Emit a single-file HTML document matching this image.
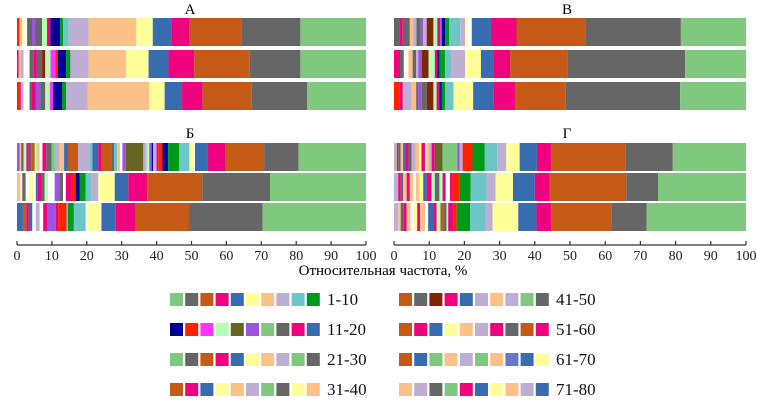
<!DOCTYPE html>
<html><head><meta charset="utf-8"><style>
body{margin:0;background:#fff}
svg{display:block;font-family:"Liberation Serif",serif}
</style></head><body>
<svg id="chart" width="757" height="402" viewBox="0 0 757 402" xmlns="http://www.w3.org/2000/svg">
<g id="bars"></g>
<g id="axes"></g>
<g id="legend"></g>
<text x="190" y="14" text-anchor="middle" font-size="15">А</text>
<text x="567" y="14" text-anchor="middle" font-size="15">В</text>
<text x="190" y="138" text-anchor="middle" font-size="15">Б</text>
<text x="567" y="138" text-anchor="middle" font-size="15">Г</text>
<text x="383" y="275" text-anchor="middle" font-size="15">Относительная частота, %</text>
</svg>
<script>
const palette = {g:"#7fc97f",k:"#666666",o:"#c55a17",m:"#f0027f",b:"#386cb0",y:"#ffff99",p:"#fdc086",l:"#beaed4",t:"#6cc6c8",G:"#009a1a",n:"#000099",r:"#ff2200",M:"#ff33ff",L:"#b3ffb3",O:"#666622",P:"#9955dd",d:"#7f2704",i:"#6677cc",w:"#ffffff"};

const aRow1Ends=[0.7,1.5,2.1,2.9,4.3,5.3,7.2,8.6,9.6,12.4,13.2,14.8,20.5,34.2,38.9,44.4,49.5,64.3,81.2,100];
const aRow1Colors="rpywkPkLmnGtlpybmokg";
const aRow2Ends=[0.5,1.1,1.9,3.6,4.8,5.7,7.2,8.1,9.6,11.0,11.7,14.1,15.3,20.5,31.3,37.7,43.4,50.8,66.7,81.2,100];
const aRow2Colors="mplwkmkdLMrnGlpybmokg";
const aRow3Ends=[0.6,1.1,1.9,3.6,4.3,5.3,6.7,8.1,9.4,10.3,12.9,14.1,20.2,37.9,42.3,47.3,53.2,67.3,83.1,100];
const aRow3Colors="rmlwkmPkLMnGlpybmokg";

const vRow1Ends=[1.7,2.5,4.5,5.5,6.4,7.6,8.3,9.3,11.2,12.3,13.1,13.6,14.5,15.7,18.8,20.2,20.8,22.1,27.7,34.8,54.3,81.5,100];
const vRow1Colors="kmkplkPldLmPnGtlywbmokg";
const vRow2Ends=[1.7,2.8,4.1,5.3,6.3,6.9,7.9,9.8,11.6,12.3,12.9,14.5,16.4,20.2,24.7,28.4,33.0,49.2,82.7,100];
const vRow2Colors="mkwpklPdLmnGtlybmokg";
const vRow3Ends=[1.5,2.5,5.0,6.3,6.9,7.9,9.3,11.2,12.1,12.9,13.6,14.5,16.9,22.5,28.2,34.4,48.8,81.3,100];
const vRow3Colors="rmlpkPkdLmnGtybmokg";

const bRow1Ends=[0.8,1.2,1.9,2.7,3.4,4.1,5.1,5.7,6.5,7.3,8.4,9.9,11.1,12.2,13.5,14.6,17.5,20.9,21.6,23.3,24.2,27.1,27.8,28.7,29.5,30.2,31.2,36.2,37.1,37.9,38.6,39.0,40.0,40.5,41.7,43.3,46.5,49.4,50.5,51.0,54.5,59.8,70.8,80.7,100];
const bRow1Colors="PpkLmkoLpwmkglpboltbmoktpwPOlLPnlmrnGtywbmokg";
const bRow2Ends=[1.0,1.5,2.5,3.4,4.6,5.4,6.0,7.0,7.9,8.9,10.8,12.2,13.2,14.0,15.6,16.8,18.0,19.7,21.3,23.3,28.0,31.9,37.3,53.1,72.5,100];
const bRow2Colors="pwkwywbmkLwPkwmrnGtlybmokg";
const bRow3Ends=[1.7,2.7,3.4,4.4,5.4,6.5,7.5,8.6,11.1,11.8,14.2,14.6,16.3,19.7,20.1,23.9,24.2,28.3,33.8,49.3,70.4,100];
const bRow3Colors="bombwlwmPmrtGtwywbmokg";

const gRow1Ends=[0.8,1.2,1.9,2.6,3.4,4.1,5.0,6.2,7.2,7.8,8.8,9.3,10.0,10.7,11.6,13.8,18.0,18.7,19.5,22.3,25.8,29.3,31.9,35.7,40.6,44.7,65.7,79.2,100];
const gRow1Colors="lrkpbmklpymLplmOgPlrGtlybmokg";
const gRow2Ends=[1.2,1.9,2.6,3.6,4.5,5.5,6.2,7.2,8.3,9.3,10.7,11.6,12.9,13.8,14.7,15.9,16.6,18.5,21.8,26.3,28.9,33.8,40.0,44.2,66.0,75.0,100];
const gRow2Colors="lmkpmpwpybmLkLmwmrGtlybmokg";
const gRow3Ends=[1.2,1.9,2.8,3.6,4.7,5.7,6.6,7.4,8.8,9.7,11.2,12.1,13.2,14.0,14.9,15.4,16.8,17.8,21.6,26.1,28.0,35.3,40.5,44.7,61.7,71.8,100];
const gRow3Colors="lpkmpwympwbmLokLmrGtlybmokg";

const tickValues=[0,10,20,30,40,50,60,70,80,90,100];
const legendLabels=["1-10","11-20","21-30","31-40","41-50","51-60","61-70","71-80"];
const legendColors=["gkombypltG","nrMLOPgkmb","gkombyplgk","ombyplgkyp","okdmblplgk","ombyplmkom","obgplgpiby","plkgmbyplb"];

const NS="http://www.w3.org/2000/svg";
function xLeft(v){return 17+v*3.49;}
function xRight(v){return 394+v*3.52;}
function mk(tag,attrs,parent){const e=document.createElementNS(NS,tag);for(const k in attrs)e.setAttribute(k,attrs[k]);parent.appendChild(e);return e;}

const barsG=document.getElementById('bars');
const panels=[
 {key:'a',sx:xLeft,ys:[18,50,82],rows:[[aRow1Ends,aRow1Colors],[aRow2Ends,aRow2Colors],[aRow3Ends,aRow3Colors]]},
 {key:'v',sx:xRight,ys:[18,50,82],rows:[[vRow1Ends,vRow1Colors],[vRow2Ends,vRow2Colors],[vRow3Ends,vRow3Colors]]},
 {key:'b',sx:xLeft,ys:[143,173,203],rows:[[bRow1Ends,bRow1Colors],[bRow2Ends,bRow2Colors],[bRow3Ends,bRow3Colors]]},
 {key:'g',sx:xRight,ys:[143,173,203],rows:[[gRow1Ends,gRow1Colors],[gRow2Ends,gRow2Colors],[gRow3Ends,gRow3Colors]]}
];
panels.forEach(p=>{
 p.rows.forEach((row,ri)=>{
  const ends=row[0],cols=row[1];let prev=0;
  ends.forEach((e,i)=>{
   const x0=p.sx(prev),x1=p.sx(e);
   const r=mk('rect',{x:x0,y:p.ys[ri],width:Math.max(0,x1-x0),height:28,fill:palette[cols[i]]||'#ccc'},barsG);
   
   
   prev=e;
  });
 });
});

const axesG=document.getElementById('axes');
[xLeft,xRight].forEach((sx,ai)=>{
 const ln=mk('line',{x1:sx(0),x2:sx(100),y1:245,y2:245,stroke:'#333','stroke-width':1.3},axesG);
 
 
 tickValues.forEach(v=>{
  const t=mk('line',{x1:sx(v),x2:sx(v),y1:241,y2:245,stroke:'#333','stroke-width':1.2},axesG);
  
  
  const tx=mk('text',{x:sx(v),y:260,'text-anchor':'middle','font-size':14,fill:'#222'},axesG);
  tx.textContent=String(v);
  
  
 });
});

const legG=document.getElementById('legend');
const legRowsY=[293,323,353,383];
legendLabels.forEach((lab,i)=>{
 const col=i<4?0:1,row=i%4;
 const x0=col?399:170,y=legRowsY[row];
 for(let j=0;j<10;j++){
  const r=mk('rect',{x:x0+j*15.2,y:y,width:13,height:13,fill:palette[legendColors[i][j]]},legG);
  
  
 }
 const t=mk('text',{x:col?556:327,y:y+12,'font-size':17,fill:'#111'},legG);
 t.textContent=lab;
 
 
});
</script>
</body></html>
